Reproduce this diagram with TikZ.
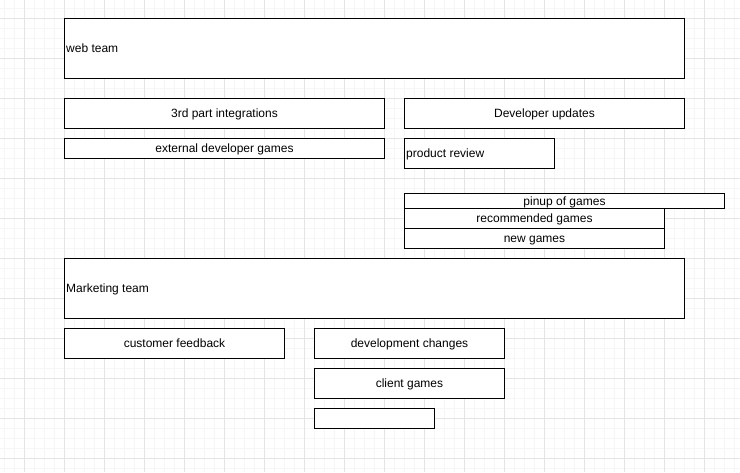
\documentclass[tikz,border=0pt]{standalone}
\usepackage{fontspec}
\setmainfont{Liberation Sans}
\definecolor{minorgrid}{HTML}{F6F6F6}
\definecolor{majorgrid}{HTML}{E4E4E4}
\begin{document}
\begin{tikzpicture}[x=1pt,y=-1pt,
  box/.style={draw=black, line width=1pt, fill=white, rectangle, inner sep=0pt, anchor=north west, font=\fontsize{12}{14}\selectfont, text depth=0pt, text height=8pt},
  lbl/.style={anchor=west, inner sep=2pt, font=\fontsize{12}{14}\selectfont, text depth=0pt, text height=8pt}]
\useasboundingbox (0,0) rectangle (740,472);
\fill[white] (0,0) rectangle (740,472);
% grid
\foreach \x in {4,14,...,734} \draw[minorgrid, line width=0.8pt] (\x,0) -- (\x,472);
\foreach \y in {8,18,...,468} \draw[minorgrid, line width=0.8pt] (0,\y) -- (740,\y);
\foreach \x in {24,64,...,704} \draw[majorgrid, line width=0.8pt] (\x,0) -- (\x,472);
\foreach \y in {18,58,...,458} \draw[majorgrid, line width=0.8pt] (0,\y) -- (740,\y);
% boxes
\node[box, minimum width=620pt, minimum height=60pt] (web) at (64,18) {};
\node[lbl] (webl) at (web.west) {web team};
\node[box, minimum width=320pt, minimum height=30pt] (third) at (64,98) {3rd part integrations};
\node[box, minimum width=280pt, minimum height=30pt] (devup) at (404,98) {Developer updates};
\node[box, minimum width=320pt, minimum height=20pt] (extdev) at (64,138) {external developer games};
\node[box, minimum width=150pt, minimum height=30pt] (prod) at (404,138) {};
\node[lbl] (prodl) at (prod.west) {product review};
\node[box, minimum width=320pt, minimum height=15pt] (pinup) at (404,193) {pinup of games};
\node[box, minimum width=260pt, minimum height=20pt] (recom) at (404,208) {recommended games};
\node[box, minimum width=260pt, minimum height=20pt] (newg) at (404,228) {new games};
\node[box, minimum width=620pt, minimum height=60pt] (mkt) at (64,258) {};
\node[lbl] (mktl) at (mkt.west) {Marketing team};
\node[box, minimum width=220pt, minimum height=30pt] (cust) at (64,328) {customer feedback};
\node[box, minimum width=190pt, minimum height=30pt] (devch) at (314,328) {development changes};
\node[box, minimum width=190pt, minimum height=30pt] (client) at (314,368) {client games};
\node[box, minimum width=120pt, minimum height=20pt] (empty) at (314,408) {};
\end{tikzpicture}
\end{document}
